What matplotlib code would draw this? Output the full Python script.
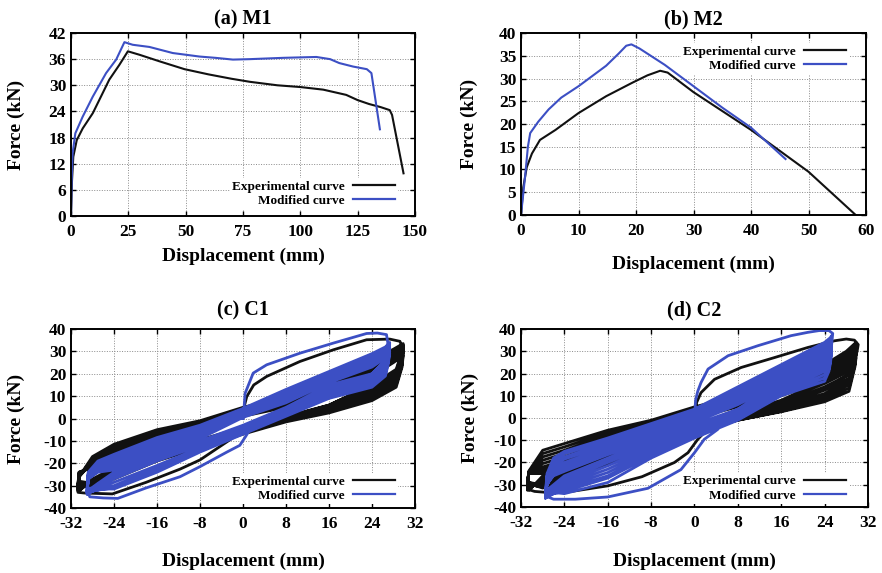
import matplotlib
matplotlib.use("Agg")
import matplotlib.pyplot as plt

plt.rcParams["font.family"] = ["Liberation Serif", "DejaVu Serif"]
plt.rcParams["font.weight"] = "bold"
plt.rcParams["axes.unicode_minus"] = False

BLACK = "#111111"
BLUE = "#3c4fc4"

# --- (a) M1 monotonic ---
m1_exp_x = [0, 0.44, 1, 2.5, 5.1, 9.5, 12.4, 16.7, 21.1, 24.8, 29.9, 38.6, 49.5, 60, 70, 78, 90,
            100, 110, 120, 125, 130, 135, 139, 140, 142.5, 145]
m1_exp_y = [0, 8.2, 13.6, 17.4, 20.1, 23.6, 26.7, 31.3, 34.7, 37.8, 37.0, 35.5, 33.7, 32.5, 31.5,
            30.8, 30.0, 29.6, 29.0, 27.8, 26.6, 25.7, 25.0, 24.3, 23.2, 16.5, 9.8]
m1_mod_x = [0, 0.3, 0.7, 1.9, 5.1, 9.5, 15.3, 19.7, 23.3, 26.9, 34.2, 44.4, 56, 63, 70.6, 78, 92.5,
            107, 113, 117, 123, 129, 131, 134.7]
m1_mod_y = [0, 8.2, 14.4, 19.0, 22.8, 27.4, 32.8, 35.9, 39.9, 39.3, 38.8, 37.4, 36.6, 36.3, 35.9,
            36.0, 36.3, 36.5, 36.0, 35.1, 34.3, 33.7, 32.8, 19.9]

# --- (b) M2 monotonic ---
m2_exp_x = [0, 0.4, 1, 1.9, 3.3, 6, 10, 14.8, 19.4, 22, 24.2, 25.5, 30, 40, 50, 58.2]
m2_exp_y = [0, 6.1, 10.5, 13.5, 16.5, 18.7, 22.4, 26.1, 29.1, 30.7, 31.7, 31.3, 27.0, 18.7, 9.5, 0]
m2_mod_x = [0, 0.7, 1.2, 1.6, 3, 4.8, 7, 10, 14.8, 17, 18.3, 19.2, 20.6, 25, 30, 35, 40, 46]
m2_mod_y = [0, 8.3, 15, 18, 20.5, 23.2, 25.8, 28.3, 32.8, 35.5, 37.2, 37.5, 36.6, 33.0, 28.3,
            23.6, 19.2, 12.3]

# --- (c) C1 cyclic: first excursion, then repeated loops (reload / unload branches) ---
c1_exp_first = [(0, 0), (0.3, 6), (0.7, 9.8), (2, 15), (4.4, 18.8), (10.6, 25.5), (16.8, 30.7),
                (23, 35.2), (27.3, 35.5), (29.2, 34.5), (29.8, 31), (29.5, 26), (28.5, 21),
                (26, 17), (24, 15), (16, 6), (8, 0.5), (4, -2.5), (1, -4.5), (0, -6), (-1.8, -8.5),
                (-8, -18.5), (-11.7, -22.6), (-18, -28.5), (-24.3, -33.7), (-27, -33.5),
                (-29.5, -33.3), (-30.7, -33)]
c1_exp_rel_x = [-30.7, -30.5, -28, -24, -16, -8, 0, 8, 16, 24, 28, 29.8]
c1_exp_rel_y = [
    [-33, -26, -17, -11.5, -5, -1, 5, 9.5, 16, 26, 31, 33.5],
    [-32.5, -26, -18, -12.5, -6, -1.5, 4.5, 9, 15.5, 25, 30, 33],
    [-32, -26, -19, -13.5, -6.5, -2.5, 4, 8.5, 15, 24, 29.5, 32.5],
    [-31.5, -26, -19.5, -14.5, -7.5, -3, 3.5, 8, 14, 23, 28.5, 32],
    [-31, -25, -20, -15.5, -8, -3.5, 3, 7.5, 13.5, 22, 28, 31],
    [-30.5, -25, -20.5, -16.5, -9, -4, 2.5, 7, 13, 21, 27, 30.5],
    [-30, -24.5, -21, -17.5, -9.5, -5, 2, 6, 12, 20, 26, 30],
    [-29.5, -24, -21.5, -18.5, -10.5, -5.5, 1.5, 5.5, 11.5, 19.5, 25.5, 29],
    [-29, -24, -22, -19.5, -11, -6, 1, 5, 11, 19, 25, 28],
]
c1_exp_unl_x = [29.6, 28.5, 24, 16, 8, 0, -8, -16, -24, -28, -30.5]
c1_exp_unl_y = [
    [30, 22, 15, 6, 1, -4, -9.5, -15, -22, -27, -32.5],
    [29.5, 21, 14, 5.5, 0.5, -4.5, -10, -15.5, -23, -28, -32],
    [29, 20, 13, 5, 0, -5, -10.5, -16, -23.5, -28.5, -31.5],
    [28, 19, 12, 4.5, 0, -5.5, -11, -16.5, -24, -29, -31],
    [27, 18, 11, 4, -0.5, -5.5, -11.5, -17, -25, -29.5, -30.5],
    [26, 17, 10, 3.5, -0.5, -6, -12, -17.5, -25.5, -30, -30],
    [25, 16, 9.5, 3, -1, -6.5, -12, -18, -26, -30, -29.5],
    [24, 15, 9, 3, -1, -6.5, -12.5, -18.5, -26.5, -29.5, -29],
    [23, 14, 8, 2.5, -1.5, -7, -13, -19, -27, -29, -28],
]

c1_mod_first = [(0, 0), (0.2, 5), (0.4, 11.3), (1.9, 20.3), (4.4, 24), (10.6, 29.2), (16.8, 33.7),
                (23, 38), (25, 38.2), (26.7, 37.5), (27, 33), (26.5, 26), (24, 20), (16, 10), (8, 2),
                (3, -1.5), (1.5, -4), (0.5, -8), (-0.6, -12), (-3, -15), (-8, -21.5),
                (-11.7, -26), (-18, -31), (-23.3, -35.7), (-26, -35.5), (-28.5, -35), (-29, -32)]
c1_mod_rel_x = [-29, -28.8, -27, -24, -16, -8, 0, 8, 16, 24, 26.5, 27.3]
c1_mod_rel_y = [
    [-32, -24, -19, -16, -8.5, -3, 4.5, 13, 21, 29, 32, 34],
    [-32.5, -24.5, -20, -17, -9.5, -4, 4, 12, 20.5, 28, 31.5, 33.5],
    [-33, -25, -20.5, -18, -10.5, -5, 3, 11, 19.5, 27, 30.5, 33],
    [-33.5, -25.5, -21.5, -19, -11.5, -6, 2.5, 10, 19, 26, 30, 32],
    [-34, -26, -22, -20, -12.5, -6.5, 2, 9.5, 18, 25, 29, 31.5],
    [-33.5, -26.5, -23, -21, -13, -7.5, 1.5, 8.5, 17.5, 24.5, 28, 31],
    [-33, -27, -23.5, -22, -14, -8, 1, 8, 17, 24, 27.5, 30],
    [-32, -27, -24, -23, -15, -9, 0.5, 7, 16, 23, 27, 29],
]
c1_mod_unl_x = [27, 26.5, 24, 16, 8, 0, -8, -16, -24, -27, -29]
c1_mod_unl_y = [
    [30, 26, 20, 15, 5, -3, -10, -16, -24, -29, -32.5],
    [29.5, 25, 19, 14, 4.5, -3.5, -10.5, -17, -25, -29.5, -33],
    [29, 24, 18, 13, 4, -4, -11.5, -18, -26, -30, -33.5],
    [28, 23, 17, 12, 3, -4.5, -12, -19, -27, -31, -34],
    [27, 22, 16, 11, 2.5, -5, -13, -21, -28.5, -31.5, -33.5],
    [26, 21, 15.5, 10, 2, -6, -14, -22, -30, -32, -33],
    [25, 20, 15, 9.5, 1.5, -6.5, -14.5, -23, -31, -32, -32],
    [24, 19, 14, 9, 1, -7, -15, -24, -31.5, -31.5, -31],
]

# --- (d) C2 cyclic ---
c2_exp_first = [(0, 0), (0.4, 7), (1.2, 11.4), (3.7, 17.4), (8.6, 22.7), (14.8, 27.2), (20.9, 31.7),
                (25.8, 34.7), (28, 35.5), (29.5, 35), (30.2, 33), (30, 30), (29.3, 24), (28, 19),
                (24, 13), (16, 6), (8, 1), (4, -3), (2, -6), (0.6, -9.6), (-1.2, -15.6),
                (-3.7, -20), (-9.7, -26.4), (-16, -30.5), (-24, -33.5), (-27, -33.5),
                (-29.5, -33), (-30.8, -32)]
c2_exp_rel_x = [-30.8, -30.6, -28, -24, -16, -8, 0, 8, 16, 24, 28, 29.8]
c2_exp_rel_y = [
    [-32, -24, -14.5, -11.5, -5.5, -1, 5, 10, 16, 24, 30, 34],
    [-32.5, -24.5, -16, -13, -6.5, -2, 4.5, 9.5, 15, 23, 29, 33.5],
    [-32, -25, -17.5, -14.5, -7.5, -3, 4, 9, 14.5, 22, 28, 33],
    [-31.5, -25, -19, -16, -8.5, -4, 3, 8, 14, 21, 27, 32],
    [-31, -25, -20.5, -17.5, -10, -5, 2.5, 7.5, 13, 20, 26, 31],
    [-30.5, -25, -22, -19, -11, -6, 2, 7, 12, 19.5, 25, 30],
    [-30, -25, -23, -20.5, -12, -6.5, 1, 6, 11.5, 18.5, 24, 29],
    [-29.5, -25, -24, -21.5, -13.5, -7.5, 0.5, 5.5, 11, 18, 23, 28],
    [-29, -25, -25, -22.5, -14.5, -8, 0, 5, 10, 17, 22.5, 27],
]
c2_exp_unl_x = [29.6, 28.5, 24, 16, 8, 0, -8, -16, -24, -28, -30.5]
c2_exp_unl_y = [
    [31, 22, 17, 8, 2, -3, -9, -15, -22, -26, -32.5],
    [30, 21, 15.5, 7.5, 1.5, -3.5, -9.5, -16, -23, -27, -32],
    [29, 19.5, 14, 6.5, 1, -4, -10, -16.5, -24, -28, -31.5],
    [28, 18, 12.5, 5.5, 0.5, -4.5, -11, -17.5, -25, -29, -31],
    [27, 17, 11, 5, 0, -5, -11.5, -18.5, -26, -30, -30.5],
    [26, 16, 10, 4, -0.5, -5.5, -12, -19, -27, -31, -30],
    [25, 15, 9, 3.5, -0.5, -6, -13, -20, -28, -31.5, -29.5],
    [24, 13.5, 8, 3, -1, -6, -13.5, -20.5, -28.5, -31, -29],
    [23, 12, 7.3, 2.8, -1, -6.5, -14, -21, -29, -30, -29],
]

c2_mod_first = [(0, 0), (0.2, 8), (0.6, 12), (1.2, 15.9), (2.5, 22), (6.2, 28), (11.7, 32.5),
                (17.8, 37), (20.9, 38.5), (23, 39.3), (24.8, 39.3), (25.5, 38), (25.3, 33),
                (24.5, 27), (24, 24), (16, 12), (8, 4), (5, 0), (4.3, -5.1), (1.8, -9.6),
                (0, -15.6), (-2.5, -23.2), (-8.6, -31.6), (-16, -35.5), (-22, -36.5),
                (-26, -36.5), (-27.5, -35), (-27.5, -34)]
c2_mod_rel_x = [-27.5, -27.2, -26, -24, -16, -8, 0, 8, 16, 24, 25, 25.3]
c2_mod_rel_y = [
    [-34, -25, -18, -15, -9, -2.5, 4, 14, 24, 34, 36, 37],
    [-35, -26, -19.5, -16, -10, -3.5, 3.5, 13, 23, 33, 35, 36.5],
    [-36, -27, -20.5, -17.5, -11, -4.5, 3, 12, 22, 32, 34, 36],
    [-36, -28, -21.5, -18.5, -12, -5.5, 2, 11, 21, 31, 33, 35],
    [-35.5, -29, -22.5, -20, -13, -6.5, 1.5, 10, 20, 30, 32, 34],
    [-35, -30, -23.5, -21, -14, -7, 1, 9, 19, 29, 31, 33],
    [-34.5, -30, -24.5, -22, -15, -8, 0, 8, 18, 28, 30, 32],
    [-34, -30, -25.5, -23, -16, -9, -1, 7, 17, 27, 29, 31],
    [-33, -29.5, -26, -24, -16.5, -9.5, -2, 6, 16, 26, 28, 30],
]
c2_mod_unl_x = [25.1, 24.8, 24, 16, 8, 0, -8, -16, -24, -26, -27.5]
c2_mod_unl_y = [
    [33, 29, 26, 17, 4, -3, -10, -18, -26, -30, -33],
    [32, 28, 25, 16, 3.5, -3.5, -11, -19, -27, -31, -34],
    [31, 27, 24, 15, 3, -4, -12, -20, -28, -32, -35],
    [30, 26, 23, 14, 2, -5, -13, -21.5, -29, -33, -36],
    [29, 25, 22, 13, 1.5, -5.5, -14, -23, -30, -34, -36],
    [28, 24, 21, 12, 1, -6.5, -15, -24.5, -31, -34, -35.5],
    [27, 23, 19.5, 11, 0, -7, -16, -26, -32, -34, -35],
    [26, 22, 18, 10.5, -0.5, -8, -17, -27, -33, -34, -34],
    [25, 21, 16.5, 10, -1, -9, -18, -29, -34, -33.5, -33.5],
]


def loop_path(first, rel_x, rel_rows, unl_x, unl_rows):
    xs = [p[0] for p in first]
    ys = [p[1] for p in first]
    for r, u in zip(rel_rows, unl_rows):
        xs += rel_x + unl_x
        ys += r + u
    return xs, ys


fig = plt.figure(figsize=(8.82, 5.73), dpi=100)
ax_a = fig.add_axes([0.0805, 0.623, 0.390, 0.3194])
ax_b = fig.add_axes([0.5907, 0.6248, 0.3912, 0.3176])
ax_c = fig.add_axes([0.0805, 0.1134, 0.390, 0.3124])
ax_d = fig.add_axes([0.5907, 0.1152, 0.3934, 0.3106])


def style(ax, title, xlim, xticks, ylim, yticks, ylab_x, xlab_y, title_pad):
    ax.set_xlim(*xlim)
    ax.set_ylim(*ylim)
    ax.set_xticks(xticks)
    ax.set_yticks(yticks)
    ax.set_axisbelow(True)
    ax.grid(True, color="#8a8a8a", linestyle=(0, (1, 1.6)), linewidth=0.7)
    ax.tick_params(direction="in", length=3.5, width=1, top=True, right=True,
                   labelsize=12.5)
    ax.tick_params(axis="x", pad=6)
    ax.tick_params(axis="y", pad=3.5)
    for lab in ax.get_xticklabels() + ax.get_yticklabels():
        lab.set_fontweight("bold")
    for sp in ax.spines.values():
        sp.set_linewidth(1.4)
    ax.set_title(title, fontsize=14.5, fontweight="bold", pad=title_pad)
    ax.set_xlabel("Displacement (mm)", fontsize=14, fontweight="bold")
    ax.set_ylabel("Force (kN)", fontsize=14, fontweight="bold")
    ax.yaxis.set_label_coords(ylab_x, 0.5)
    ax.xaxis.set_label_coords(0.5, xlab_y)


def add_legend(ax, loc, anchor):
    leg = ax.legend(loc=loc, bbox_to_anchor=anchor, markerfirst=False, frameon=True,
                    fontsize=9.5, handlelength=3.2, handletextpad=0.6, labelspacing=0.15,
                    borderpad=0.2, borderaxespad=0, fancybox=False)
    leg.get_frame().set_facecolor("white")
    leg.get_frame().set_edgecolor("none")
    leg.get_frame().set_alpha(1)
    for line in leg.get_lines():
        line.set_linewidth(1.6)
    for t in leg.get_texts():
        t.set_fontweight("bold")


# (a)
ax_a.plot(m1_exp_x, m1_exp_y, color=BLACK, lw=1.5, label="Experimental curve")
ax_a.plot(m1_mod_x, m1_mod_y, color=BLUE, lw=1.5, label="Modified curve")
style(ax_a, "(a) M1", (0, 150), range(0, 151, 25), (0, 42), range(0, 43, 6), -0.134, -0.175, 6)
add_legend(ax_a, "lower right", (0.95, 0.035))

# (b)
ax_b.plot(m2_exp_x, m2_exp_y, color=BLACK, lw=1.5, label="Experimental curve")
ax_b.plot(m2_mod_x, m2_mod_y, color=BLUE, lw=1.5, label="Modified curve")
style(ax_b, "(b) M2", (0, 60), range(0, 61, 10), (0, 40), range(0, 41, 5), -0.125, -0.225, 6)
add_legend(ax_b, "upper right", (0.95, 0.945))

# (c)
x, y = loop_path(c1_exp_first, c1_exp_rel_x, c1_exp_rel_y, c1_exp_unl_x, c1_exp_unl_y)
ax_c.plot(x, y, color=BLACK, lw=2.0, label="Experimental curve", solid_joinstyle="round")
x, y = loop_path(c1_mod_first, c1_mod_rel_x, c1_mod_rel_y, c1_mod_unl_x, c1_mod_unl_y)
ax_c.plot(x, y, color=BLUE, lw=2.0, label="Modified curve", solid_joinstyle="round")
style(ax_c, "(c) C1", (-32, 32), range(-32, 33, 8), (-40, 40), range(-40, 41, 10),
      -0.134, -0.251, 10)
add_legend(ax_c, "lower right", (0.95, 0.02))

# (d)
x, y = loop_path(c2_exp_first, c2_exp_rel_x, c2_exp_rel_y, c2_exp_unl_x, c2_exp_unl_y)
ax_d.plot(x, y, color=BLACK, lw=2.0, label="Experimental curve", solid_joinstyle="round")
x, y = loop_path(c2_mod_first, c2_mod_rel_x, c2_mod_rel_y, c2_mod_unl_x, c2_mod_unl_y)
ax_d.plot(x, y, color=BLUE, lw=2.0, label="Modified curve", solid_joinstyle="round")
style(ax_d, "(d) C2", (-32, 32), range(-32, 33, 8), (-40, 40), range(-40, 41, 10),
      -0.121, -0.258, 10)
add_legend(ax_d, "lower right", (0.945, 0.015))

fig.savefig("out.png", dpi=100)
